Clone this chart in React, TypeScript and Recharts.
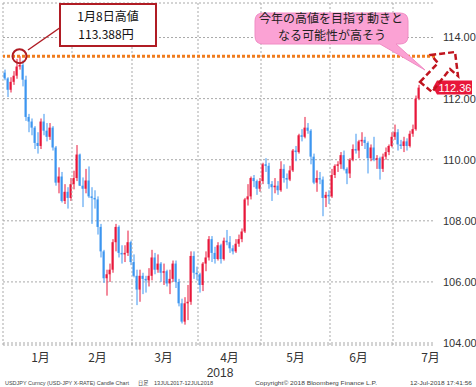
import React from 'react';
import { ComposedChart, Bar, XAxis, YAxis, CartesianGrid, ReferenceLine, ReferenceDot } from 'recharts';

const UP = '#e8173a';
const DOWN = '#3d95f0';
const GRID = '#a9a9a9';
const JP = '"Noto Sans CJK JP", sans-serif';
const SANS = '"Liberation Sans", Arial, sans-serif';

// month names on the x axis, the slot where each month starts and the slot under its label
const monthLabels = ['1月', '2月', '3月', '4月', '5月', '6月', '7月'];
const monthStart = [0, 23, 43, 65, 86, 109, 130];
const monthLabelAt = [12, 31, 53, 75, 97, 118, 142];
const SLOTS = 144;
const yDomain = [103.935, 115.13];

// USDJPY daily OHLC, 1 Jan 2018 - 12 Jul 2018 (weekdays)
const opens = [
  112.85, 112.66, 112.29, 112.55, 112.75, 113.05, 113.10, 112.62, 111.40, 111.25, 111.05, 110.55, 110.45, 111.25, 110.95, 110.75, 111.05, 110.40, 109.25, 109.45, 108.65, 108.95, 108.75,
  109.20, 109.40, 110.17, 109.15, 109.05, 109.32, 108.80, 108.75, 108.70, 107.80, 107.00, 106.12, 106.25, 106.40, 107.30, 107.80, 106.95, 106.90, 106.95, 107.30,
  106.65, 106.20, 105.75, 106.20, 106.10, 106.05, 106.20, 106.80, 106.40, 106.60, 106.30, 106.35, 105.95, 106.10, 106.60, 106.00, 105.30, 104.70, 105.30, 105.35, 106.85, 106.30,
  106.25, 105.90, 106.60, 106.80, 107.40, 106.95, 106.75, 107.20, 106.75, 107.35, 107.30, 107.10, 107.00, 107.25, 107.40, 107.65, 108.70, 108.80, 109.40, 109.30, 109.05,
  109.30, 109.85, 109.80, 109.20, 109.10, 109.15, 109.00, 109.70, 109.40, 109.35, 109.65, 110.30, 110.25, 110.80, 110.75, 111.05, 110.95, 110.10, 109.25, 109.40, 109.35, 108.75, 108.85,
  108.80, 109.50, 109.80, 109.85, 110.15, 109.70, 109.55, 110.00, 110.35, 110.30, 110.60, 110.65, 110.55, 110.05, 110.40, 110.00, 110.05, 109.70, 110.10, 110.25, 110.45,
  110.75, 110.90, 110.50, 110.45, 110.60, 110.45, 110.85, 111.00, 112.00,
];
const highs = [
  112.95, 112.70, 112.70, 112.90, 113.30, 113.388, 113.25, 112.75, 111.50, 111.35, 111.10, 110.90, 111.35, 111.50, 111.20, 111.20, 111.10, 110.45, 109.75, 109.60, 109.20, 109.10, 109.40,
  109.64, 110.48, 110.20, 109.42, 109.70, 109.78, 109.10, 109.00, 108.80, 107.90, 107.05, 106.40, 106.60, 107.40, 107.90, 107.85, 107.20, 107.20, 107.68, 107.35,
  106.90, 106.40, 106.40, 106.30, 106.20, 106.45, 107.05, 106.95, 106.90, 106.65, 106.60, 106.40, 106.40, 106.70, 106.70, 106.10, 105.45, 105.50, 105.90, 107.00, 107.00, 106.50,
  106.30, 106.65, 107.00, 107.50, 107.50, 107.15, 107.30, 107.25, 107.45, 107.70, 107.50, 107.20, 107.40, 107.55, 107.75, 108.75, 109.20, 109.45, 109.50, 109.35, 109.40,
  109.90, 110.05, 109.90, 109.30, 109.40, 109.30, 109.95, 109.85, 109.55, 109.80, 110.35, 110.45, 110.85, 111.00, 111.40, 111.20, 111.00, 110.20, 109.65, 109.60, 109.45, 108.95, 109.00,
  109.70, 109.85, 109.95, 110.25, 110.30, 109.75, 110.05, 110.50, 110.85, 110.65, 110.90, 110.75, 110.60, 110.50, 110.75, 110.15, 110.10, 110.20, 110.40, 110.50, 110.90,
  111.15, 111.00, 110.65, 110.75, 110.70, 110.95, 111.15, 112.10, 112.45,
];
const lows = [
  112.60, 112.05, 112.20, 112.45, 112.65, 112.95, 112.40, 111.27, 110.90, 110.80, 110.35, 110.20, 110.35, 110.80, 110.60, 110.65, 110.30, 109.15, 108.90, 108.60, 108.55, 108.40, 108.65,
  109.03, 109.30, 109.14, 108.45, 108.90, 108.75, 107.90, 108.40, 107.55, 106.80, 105.97, 105.55, 106.00, 106.30, 107.00, 106.80, 106.60, 106.65, 106.85, 106.55,
  106.15, 105.24, 105.35, 105.60, 105.65, 105.85, 106.05, 106.25, 106.30, 106.00, 105.90, 105.85, 105.60, 106.00, 105.80, 105.20, 104.64, 104.60, 104.75, 105.25, 106.10, 106.05,
  105.65, 105.70, 106.35, 106.70, 106.65, 106.60, 106.70, 106.60, 106.70, 107.20, 106.95, 106.90, 106.95, 107.15, 107.30, 107.60, 108.50, 108.70, 109.10, 108.85, 108.95,
  109.20, 109.60, 109.05, 108.65, 108.90, 108.85, 108.95, 109.25, 109.05, 109.30, 109.60, 109.95, 110.20, 110.60, 110.70, 110.85, 109.85, 109.20, 108.95, 109.20, 108.15, 108.45, 108.55,
  108.75, 109.40, 109.60, 109.70, 109.65, 109.20, 109.40, 109.95, 110.20, 110.05, 110.45, 110.35, 109.55, 109.95, 109.95, 109.70, 109.35, 109.60, 110.00, 110.15, 110.40,
  110.65, 110.30, 110.35, 110.25, 110.30, 110.40, 110.75, 110.95, 111.95,
];
const closes = [
  112.66, 112.29, 112.55, 112.75, 113.05, 113.10, 112.62, 111.40, 111.25, 111.05, 110.55, 110.45, 111.25, 110.95, 110.75, 111.05, 110.40, 109.25, 109.45, 108.65, 108.95, 108.75, 109.20,
  109.40, 110.17, 109.15, 109.05, 109.32, 108.80, 108.75, 108.70, 107.80, 107.00, 106.12, 106.25, 106.40, 107.30, 107.80, 106.95, 106.90, 106.95, 107.30, 106.65,
  106.20, 105.75, 106.20, 106.10, 106.05, 106.20, 106.80, 106.40, 106.60, 106.30, 106.35, 105.95, 106.10, 106.60, 106.00, 105.30, 104.70, 105.30, 105.35, 106.85, 106.30, 106.25,
  105.90, 106.60, 106.80, 107.40, 106.95, 106.75, 107.20, 106.75, 107.35, 107.30, 107.10, 107.00, 107.25, 107.40, 107.65, 108.70, 108.80, 109.40, 109.30, 109.05, 109.30,
  109.85, 109.80, 109.20, 109.10, 109.15, 109.00, 109.70, 109.40, 109.35, 109.65, 110.30, 110.25, 110.80, 110.75, 111.05, 110.95, 110.10, 109.25, 109.40, 109.35, 108.75, 108.85, 108.80,
  109.50, 109.80, 109.85, 110.15, 109.70, 109.55, 110.00, 110.35, 110.30, 110.60, 110.65, 110.55, 110.05, 110.40, 110.00, 110.05, 109.70, 110.10, 110.25, 110.45, 110.75,
  110.90, 110.50, 110.45, 110.60, 110.45, 110.85, 111.00, 112.00, 112.36,
];

const yTicks = [104, 106, 108, 110, 112, 114];
const yearHigh = 113.388;
const yearHighIdx = 5; // 8 Jan
const lastPrice = 112.36;

const rows = Array.from({ length: SLOTS }, (_, i) =>
  i < opens.length ? { i, o: opens[i], h: highs[i], l: lows[i], c: closes[i] } : { i }
);

const Candle = (props: any) => {
  const { x, y, width, height, payload } = props;
  if (!payload || payload.h == null) return null;
  const top = Math.min(y, y + height);
  const bot = Math.max(y, y + height);
  const k = (bot - top) / (payload.h - payload.l || 1);
  const col = payload.c >= payload.o ? UP : DOWN;
  const bt = top + (payload.h - Math.max(payload.o, payload.c)) * k;
  const bb = top + (payload.h - Math.min(payload.o, payload.c)) * k;
  const cx = x + width / 2;
  // month boundary grid line at the start of the slot, over the whole y domain
  const grid = monthStart.includes(payload.i) ? (
    <line
      x1={cx - 2}
      x2={cx - 2}
      y1={top - (yDomain[1] - payload.h) * k}
      y2={top + (payload.h - yDomain[0]) * k + 3}
      stroke={GRID}
      strokeDasharray="2 2"
    />
  ) : null;
  return (
    <g>
      {grid}
      <line x1={cx} x2={cx} y1={top} y2={bot} stroke={col} strokeWidth={1} />
      <rect x={cx - 1.5} y={bt} width={2} height={Math.max(1, bb - bt)} fill={col} />
    </g>
  );
};

const PriceTag = (props: any) => {
  const vb = props.viewBox;
  const x = vb.x + vb.width;
  const y = vb.y;
  return (
    <g>
      <path d={`M${x - 2},${y} L${x + 2},${y - 7} H${x + 37} V${y + 7} H${x + 2} Z`} fill={UP} />
      <text x={x + 20} y={y + 4} textAnchor="middle" fill="#fff" fontSize={11} fontFamily={SANS}>
        {lastPrice.toFixed(2)}
      </text>
    </g>
  );
};

const monthTick = (v: any) => {
  const k = monthLabelAt.indexOf(Number(v));
  return k >= 0 ? monthLabels[k] : '';
};

const Notes = () => (
  <svg width={476} height={387} style={{ position: 'absolute', left: 0, top: 0, pointerEvents: 'none' }}>
    {/* callout for the January high */}
    <line x1={28} y1={50} x2={61} y2={27} stroke="#b01c24" strokeWidth={1.5} />
    <rect x={60} y={4} width={96} height={42} fill="#fff" stroke="#b01c24" strokeWidth={2} />
    <text x={108} y={21} textAnchor="middle" fontSize={12} fontFamily={JP} fill="#111">1月8日高値</text>
    <text x={106} y={39} textAnchor="middle" fontSize={12} fontFamily={JP} fill="#111">113.388円</text>

    {/* pink speech bubble */}
    <path
      d="M263,13 H400 Q408,13 408,21 V36 Q408,44 400,44 H396 L425,70 L380,44 H263 Q255,44 255,36 V21 Q255,13 263,13 Z"
      fill="#fba2d4"
      stroke="#f08cc4"
      strokeWidth={1}
    />
    <text x={331} y={23} textAnchor="middle" fontSize={12} fontFamily={JP} fill="#222">今年の高値を目指す動きと</text>
    <text x={332} y={40} textAnchor="middle" fontSize={12} fontFamily={JP} fill="#222">なる可能性が高そう</text>

    {/* dashed up arrow */}
    <polygon
      points="420,82 438,63 431,55 455,52 458,76 450,69 432,92"
      fill="none"
      stroke="#c0141e"
      strokeWidth={2.5}
      strokeDasharray="6 3"
    />

    <text x={220} y={377} textAnchor="middle" fontSize={12} fontFamily={SANS} fill="#333">2018</text>

    <g fontFamily={SANS} fontSize={5.2} fill="#444">
      <text x={5} y={385} textLength={124} lengthAdjust="spacingAndGlyphs">USDJPY Curncy (USD-JPY X-RATE) Candle Chart</text>
      <text x={138} y={385} fontFamily={JP}>日足</text>
      <text x={154} y={385} textLength={59} lengthAdjust="spacingAndGlyphs">13JUL2017-12JUL2018</text>
      <text x={255} y={385} textLength={122} lengthAdjust="spacingAndGlyphs">Copyright© 2018 Bloomberg Finance L.P.</text>
      <text x={410} y={385} textLength={62} lengthAdjust="spacingAndGlyphs">12-Jul-2018 17:41:56</text>
    </g>
  </svg>
);

export default function App() {
  return (
    <div style={{ position: 'relative', width: 476, height: 387, background: '#fff' }}>
      <style>{'body{margin:0}'}</style>
      <ComposedChart width={476} height={387} data={rows} margin={{ top: 3, right: 0, left: 3, bottom: 0 }}>
        <CartesianGrid vertical={false} stroke={GRID} strokeDasharray="2 2" />
        <XAxis
          dataKey="i"
          type="category"
          interval={0}
          height={42}
          tickLine={false}
          axisLine={false}
          tickFormatter={monthTick}
          tick={{ fontSize: 12, fill: '#333', fontFamily: JP }}
        />
        <YAxis
          orientation="right"
          width={41}
          domain={yDomain}
          allowDataOverflow
          ticks={yTicks}
          tickFormatter={(v: number) => v.toFixed(2)}
          tickLine={false}
          axisLine={false}
          tick={{ fontSize: 11, fill: '#333', fontFamily: SANS }}
        />
        <Bar
          dataKey={(d: any) => (d.h == null ? null : [d.l, d.h])}
          barSize={2}
          shape={Candle}
          isAnimationActive={false}
        />
        <ReferenceLine y={yearHigh} stroke="#f07c1e" strokeWidth={3} strokeDasharray="3 2" />
        <ReferenceDot x={yearHighIdx} y={yearHigh} r={7} fill="none" stroke="#b01c24" strokeWidth={2} />
        <ReferenceLine y={lastPrice} stroke="none" label={PriceTag} />
      </ComposedChart>
      <Notes />
    </div>
  );
}
